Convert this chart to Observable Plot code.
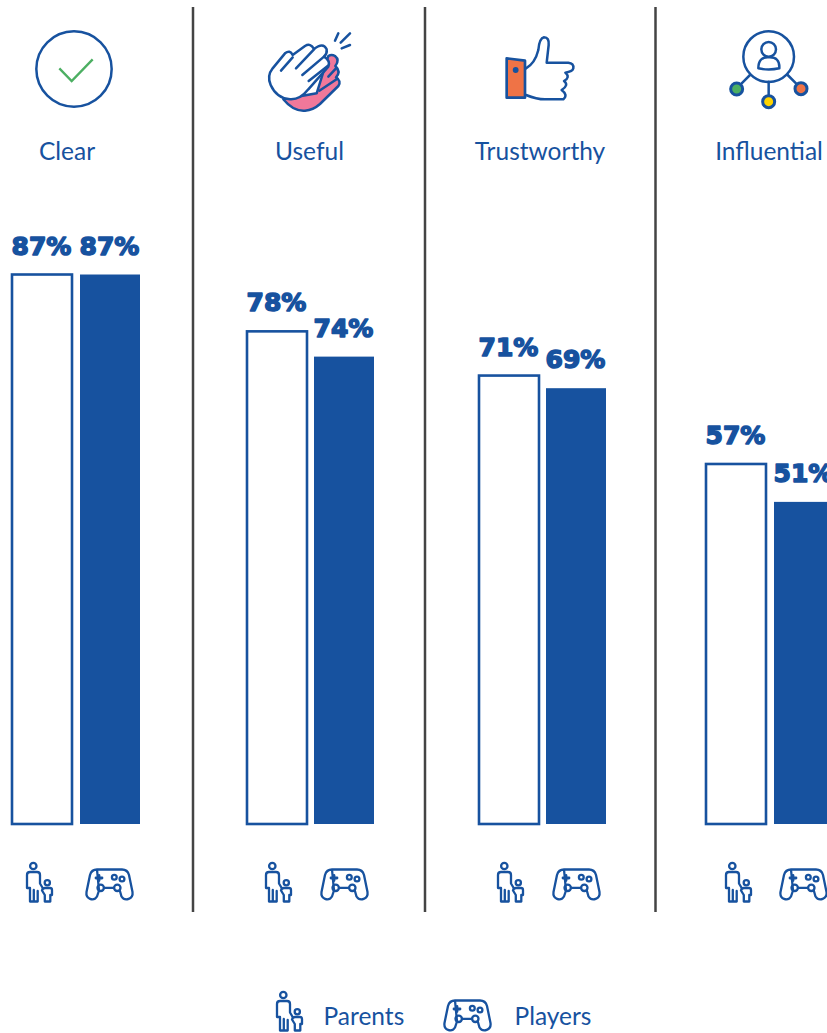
<!DOCTYPE html>
<html><head><meta charset="utf-8">
<style>html,body{margin:0;padding:0;background:#fff}svg{display:block}</style>
<script src="https://cdn.jsdelivr.net/npm/d3@7"></script>
<script src="https://cdn.jsdelivr.net/npm/@observablehq/plot@0.6"></script>
</head><body><div id="chart"></div>
<script>
const categories = ["Clear", "Useful", "Trustworthy", "Influential"];
const parents = [87, 78, 71, 57];
const players = [87, 74, 69, 51];
const legendLabels = ["Parents", "Players"];

// layout
const W = 827, H = 1033, blue = "#17529f";
const groupStart = [12, 247, 479, 706];
const playerGap = [68, 67, 67, 68];
const barW = 60;
const labelCenter = [66.5, 309, 539.5, 768.5];
const separators = [192.5, 424.5, 655];
const yZero = 824, pxPerPct = 6.316;
const py = px => (yZero - px) / pxPerPct;

const bars = categories.flatMap((c, i) => [
  {c, s: "Parents", v: parents[i], x1: groupStart[i], x2: groupStart[i] + barW},
  {c, s: "Players", v: players[i], x1: groupStart[i] + playerGap[i], x2: groupStart[i] + playerGap[i] + barW}
]);

const C = `fill="none" stroke="${blue}" stroke-linecap="round" stroke-linejoin="round"`;
const person = `<g ${C} stroke-width="2.3">
<circle cx="9.3" cy="4" r="3.2" fill="#fff"/>
<path d="M6 39.5V26H3V13Q3 10 6 10H13Q16 10 16 13V21.5L19 26.5M13.7 29V39.5H6M9.8 28V39.5" fill="none"/>
<circle cx="23.3" cy="20.7" r="2.6" fill="#fff"/>
<path d="M20.8 39.5V33L18 28.5Q18.5 26 21 26H26Q28 26 28 28V33H26.3V39.5Z" fill="#fff"/></g>`;
const pad = `<g ${C} stroke-width="2.3">
<path d="M11 1.5H36C40 1.5 42 3.5 43 7L46.5 24C47.5 31 39 34 35.5 28.5L33.8 22.5M13 22.5L11 28.5C7.5 34 -0.5 31 .5 24L4 7C5 3.5 7 1.5 11 1.5Z"/>
<circle cx="14.7" cy="19.8" r="3.2"/><circle cx="31.3" cy="19.8" r="3.2"/><path d="M18 19.8H28"/>
<circle cx="28.3" cy="9.3" r="2.4"/><circle cx="36" cy="11" r="2.4"/><path d="M13 7.5V12.5M10 10H16" stroke-width="2.8"/></g>`;
const tops = `
<g transform="scale(.33333)">
  <circle cx="222" cy="207" r="113" fill="none" stroke="${blue}" stroke-width="7.5"/>
  <path d="M178 205L215 243L278 178" fill="none" stroke="#4caf62" stroke-width="7"/>
  <g ${C} stroke-width="7.5">
    <path d="M850 298Q880 335 915 332Q940 330 960 312L1015 258Q1025 243 1008 232Q1024 215 1006 198Q1020 180 1005 168Q995 162 985 168L950 280Z" fill="#f0789a"/>
    <path d="M818 205L855 160Q870 148 878 165L915 138Q932 128 942 147Q970 125 980 148Q982 160 972 170Q992 182 985 200L925 268Q900 300 870 298Q830 295 812 255Q800 228 818 205Z" fill="#fff"/>
    <path d="M843 212L878 172M888 205L942 148M907 225L972 170M926 243L984 197M958 272L1012 236M985 230L1008 205M1005 122L1015 100M1022 128L1050 100M1025 145L1050 135" fill="none"/>
  </g>
</g>
<g transform="translate(420,0) scale(.33333)">
  <g ${C} stroke-width="7.5">
    <path d="M318 205Q345 190 355 150Q358 115 372 112Q388 112 386 135L380 188H445Q462 190 460 205Q458 215 436 218Q452 232 432 243Q448 255 425 270Q445 285 430 298H375Q350 298 318 285" fill="#fff"/>
    <path d="M260 175L315 182V293H260Z" fill="#ef7346" stroke-width="8"/>
    <circle cx="287" cy="210" r="5" fill="${blue}"/>
    <circle cx="1046" cy="170" r="76"/><circle cx="1046" cy="148" r="22"/>
    <path d="M1015 205Q1015 170 1046 172Q1080 170 1078 205Q1046 212 1015 205Z"/>
    <path d="M990 225L965 250M1046 245V285M1103 225L1128 250"/>
    <circle cx="950" cy="267" r="18" fill="#4caf62" stroke-width="9"/>
    <circle cx="1046" cy="305" r="18" fill="#ffd400" stroke-width="9"/>
    <circle cx="1143" cy="266" r="18" fill="#ef7346" stroke-width="9"/>
  </g>
</g>`;
const personSpots = [[24,862],[263,862],[495,862],[723,862],[274,991]];
const padSpots = [[86,868],[321,868],[553,868],[780,868],[444,999]];
const icons = () => {
  const g = d3.create("svg:g");
  g.html(tops
    + personSpots.map(([x,y]) => `<g transform="translate(${x},${y})">${person}</g>`).join("")
    + padSpots.map(([x,y]) => `<g transform="translate(${x},${y})">${pad}</g>`).join(""));
  return g.node();
};

const labelFont = {fontFamily: "Lato, 'Open Sans', sans-serif", fontSize: 24.5, fill: blue};

const plot = Plot.plot({
  width: W, height: H, margin: 0, style: {background: "#fff", overflow: "hidden"},
  x: {domain: [0, W], range: [0, W], axis: null},
  y: {domain: [0, 100], range: [yZero, yZero - 100 * pxPerPct], axis: null},
  marks: [
    Plot.ruleX(separators, {x: d => d, y1: py(7), y2: py(912), stroke: "#444", strokeWidth: 2.5}),
    Plot.rect(bars, {
      x1: "x1", x2: "x2", y1: 0, y2: "v",
      fill: d => d.s === "Parents" ? "#fff" : blue,
      stroke: d => d.s === "Parents" ? blue : "none",
      strokeWidth: 2.6
    }),
    Plot.text(bars, {
      x: d => (d.x1 + d.x2) / 2, y: "v", text: d => d.v + "%", dy: -20.5, dx: -1,
      lineAnchor: "bottom", textAnchor: "middle",
      fontFamily: "'DejaVu Sans', sans-serif", fontWeight: 700, fontSize: 25,
      fill: blue, stroke: blue, strokeWidth: 1.5
    }),
    Plot.text(categories, {
      x: (d, i) => labelCenter[i], y: () => py(161), text: d => d,
      lineAnchor: "bottom", dy: -2, textAnchor: "middle", ...labelFont
    }),
    Plot.text(legendLabels, {
      x: (d, i) => [323, 514][i], y: () => py(1026), text: d => d,
      lineAnchor: "bottom", dy: -2, textAnchor: "start", ...labelFont
    }),
    icons
  ]
});
document.getElementById("chart").append(plot);
</script></body></html>
